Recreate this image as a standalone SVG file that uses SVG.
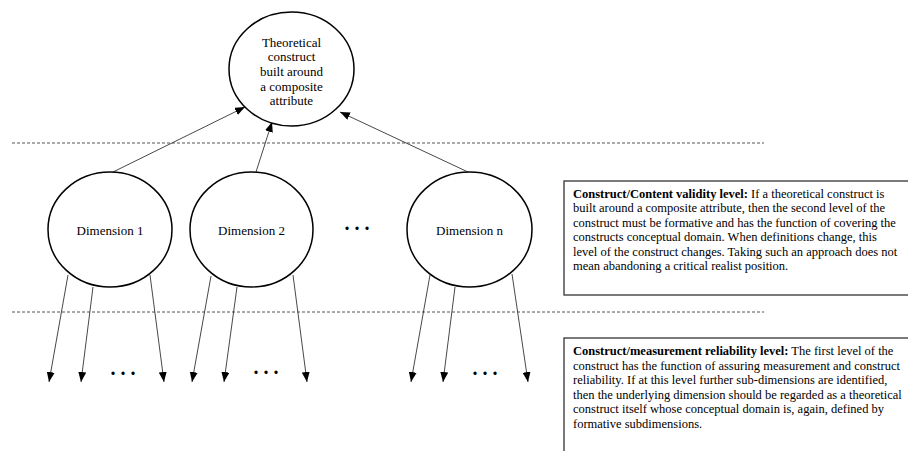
<svg xmlns="http://www.w3.org/2000/svg" width="908" height="451" viewBox="0 0 908 451">
<defs>
<marker id="ah" markerUnits="userSpaceOnUse" markerWidth="10" markerHeight="8" refX="10" refY="4" orient="auto">
<path d="M0,0 L10,4 L0,8 z" fill="#000"/>
</marker>
<style>
.node{fill:#fff;stroke:#000;stroke-width:1.5}
.t{font-family:"Liberation Serif","Times New Roman",serif;font-size:13px;fill:#000}
.c{text-anchor:middle}
.bt{font-family:"Liberation Serif","Times New Roman",serif;font-size:12.5px;fill:#000}
.dots{font-family:"Liberation Serif","Times New Roman",serif;font-size:20px;font-weight:bold;text-anchor:middle;fill:#000}
.dash{stroke:#555;stroke-width:1;stroke-dasharray:3,2;fill:none}
.box{fill:#fff;stroke:#333;stroke-width:1.3}
.ed{stroke:#333;stroke-width:0.9;fill:none;marker-end:url(#ah)}
</style>
</defs>
<rect width="908" height="451" fill="#fff"/>
<line class="dash" x1="12" y1="143" x2="764" y2="143"/>
<line class="dash" x1="12" y1="312" x2="764" y2="312"/>
<g id="connectors">
<line class="ed" x1="113" y1="172" x2="245" y2="107"/>
<line class="ed" x1="256" y1="172" x2="272" y2="122"/>
<line class="ed" x1="468" y1="172" x2="340" y2="112"/>
<line class="ed" x1="68" y1="275" x2="49" y2="382"/>
<line class="ed" x1="93" y1="287" x2="81" y2="382"/>
<line class="ed" x1="150" y1="275" x2="164" y2="382"/>
<line class="ed" x1="211" y1="276" x2="192" y2="382"/>
<line class="ed" x1="237" y1="287" x2="224" y2="382"/>
<line class="ed" x1="293" y1="275" x2="307" y2="382"/>
<line class="ed" x1="430" y1="275" x2="411" y2="382"/>
<line class="ed" x1="455" y1="287" x2="443" y2="382"/>
<line class="ed" x1="512" y1="274" x2="528" y2="382"/>
</g>
<g id="construct">
<ellipse class="node" cx="291.5" cy="69" rx="62.5" ry="57"/>
<text class="t c" x="291.5" y="46.5">Theoretical</text>
<text class="t c" x="291.5" y="61.2">construct</text>
<text class="t c" x="291.5" y="75.9">built around</text>
<text class="t c" x="291.5" y="90.6">a composite</text>
<text class="t c" x="291.5" y="105.3">attribute</text>
</g>
<g id="dim1">
<ellipse class="node" cx="110" cy="229.5" rx="62" ry="57.5"/>
<text class="t c" x="110" y="234.5">Dimension 1</text>
</g>
<g id="dim2">
<ellipse class="node" cx="251.5" cy="229.5" rx="61.5" ry="57.5"/>
<text class="t c" x="251.5" y="234.5">Dimension 2</text>
</g>
<g id="dimn">
<ellipse class="node" cx="469.5" cy="229.5" rx="62.5" ry="57.5"/>
<text class="t c" x="469.5" y="234.5">Dimension n</text>
</g>
<text class="dots" x="357" y="230">. . .</text>
<text class="dots" x="123" y="375">. . .</text>
<text class="dots" x="266" y="374">. . .</text>
<text class="dots" x="485" y="375">. . .</text>
<g id="validity">
<rect class="box" x="564" y="181" width="350" height="114"/>
<text class="bt" x="573" y="197.5"><tspan font-weight="bold">Construct/Content validity level:</tspan> If a theoretical construct is</text>
<text class="bt" x="573" y="212">built around a composite attribute, then the second level of the</text>
<text class="bt" x="573" y="226.5">construct must be formative and has the function of covering the</text>
<text class="bt" x="573" y="241">constructs conceptual domain. When definitions change, this</text>
<text class="bt" x="573" y="255.5">level of the construct changes. Taking such an approach does not</text>
<text class="bt" x="573" y="270">mean abandoning a critical realist position.</text>
</g>
<g id="reliability">
<rect class="box" x="564" y="338" width="350" height="130"/>
<text class="bt" x="573" y="355"><tspan font-weight="bold">Construct/measurement reliability level:</tspan> The first level of the</text>
<text class="bt" x="573" y="369.5">construct has the function of assuring measurement and construct</text>
<text class="bt" x="573" y="384">reliability. If at this level further sub-dimensions are identified,</text>
<text class="bt" x="573" y="398.5">then the underlying dimension should be regarded as a theoretical</text>
<text class="bt" x="573" y="413">construct itself whose conceptual domain is, again, defined by</text>
<text class="bt" x="573" y="427.5">formative subdimensions.</text>
</g>
</svg>
